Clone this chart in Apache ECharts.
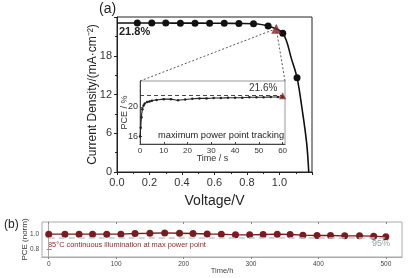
<!DOCTYPE html>
<html>
<head>
<meta charset="utf-8">
<script src="https://cdn.jsdelivr.net/npm/echarts@6/dist/echarts.min.js"></script>
<style>
html,body{margin:0;padding:0;background:#fff;}
#c{width:413px;height:278px;}
</style>
</head>
<body>
<div id="c"></div>
<script>
// ---- Data ----
// (a) J-V curve
const jvVoltage = [0, 0.125, 0.214, 0.30, 0.39, 0.48, 0.57, 0.66, 0.75, 0.84, 0.93, 1.02, 1.075, 1.108, 1.14, 1.167, 1.18];
const jvCurrent = [23.06, 23.06, 23.06, 23.06, 23.05, 23.05, 23.04, 23.03, 23.0, 22.95, 22.6, 21.5, 17.4, 14.6, 9.6, 4.5, 0];
const jvMarked  = [false, true, true, true, true, true, true, true, true, true, true, true, false, true, false, false, false];
const mppVoltage = [0.98];
const mppCurrent = [22.2];
const jvXTicks = [0, 0.2, 0.4, 0.6, 0.8, 1.0];
const jvYTicks = [0, 6, 12, 18];
// inset: maximum power point tracking
const mpptTime = [0, 0.3, 0.6, 1, 1.5, 2, 3, 4, 5, 7, 10, 13, 16, 19, 22, 25, 28, 31, 34, 37, 40, 43, 46, 49, 52, 55, 58, 60];
const mpptPce  = [16.0, 17.2, 18.6, 19.7, 20.2, 20.45, 20.65, 20.75, 20.85, 20.95, 21.05, 21.05, 20.9, 21.0, 21.1, 21.15, 21.15, 21.2, 21.2, 21.25, 21.25, 21.25, 21.3, 21.3, 21.3, 21.35, 21.35, 21.35];
const mpptEndTime = [60];
const mpptEndPce = [21.5];
const mpptTarget = 21.6;
const insetXTicks = [0, 10, 20, 30, 40, 50, 60];
const insetYTicks = [16, 20];
// (b) stability
const agingTime = [0, 24, 45, 65, 86, 107, 128, 150, 172, 194, 214, 235, 256, 277, 298, 318, 339, 358, 377, 398, 418, 439, 461, 482, 500];
const agingPce  = [1.0, 1.0, 1.0, 1.0, 1.0, 1.0, 1.008, 1.012, 1.017, 1.013, 1.008, 1.003, 1.0, 0.991, 0.991, 0.995, 1.0, 0.995, 0.987, 0.982, 0.982, 0.978, 0.978, 0.974, 0.965];
const agingRef = 0.95;
const agingXTicks = [0, 100, 200, 300, 400, 500];
const agingYTicks = [0.8, 1.0];

const FONT = '"Liberation Sans", Arial, sans-serif';
const RED = '#7a1c1f';

const chart = echarts.init(document.getElementById('c'), null, {renderer: 'canvas'});

const jvData = jvVoltage.map((v, i) => ({
  value: [v, jvCurrent[i]],
  symbol: jvMarked[i] ? 'circle' : 'none'
}));

const option = {
  animation: false,
  backgroundColor: '#fff',
  textStyle: {fontFamily: FONT},
  grid: [
    {left: 117, top: 17, width: 195, height: 155, show: true, borderColor: '#222', borderWidth: 1, backgroundColor: 'transparent'},
    {left: 140, top: 81, width: 145, height: 63, show: true, borderColor: '#999', borderWidth: 1, backgroundColor: '#fff'},
    {left: 42, top: 222, width: 360, height: 35, show: true, borderColor: '#aaa', borderWidth: 1, backgroundColor: 'transparent'}
  ],
  xAxis: [
    {gridIndex: 0, type: 'value', min: 0, max: 1.2, interval: 0.2,
     name: 'Voltage/V', nameLocation: 'middle', nameGap: 22, nameMoveOverlap: false,
     nameTextStyle: {fontSize: 14, color: '#222', fontFamily: FONT},
     axisLine: {lineStyle: {color: '#222'}},
     axisTick: {show: true, inside: false, length: 3, lineStyle: {color: '#222'}},
     minorTick: {show: true, splitNumber: 2, length: 2, lineStyle: {color: '#222'}},
     axisLabel: {fontSize: 11, color: '#333', margin: 5, fontFamily: FONT,
       formatter: v => jvXTicks.some(t => Math.abs(t - v) < 1e-6) ? v.toFixed(1) : ''},
     splitLine: {show: false}},
    {gridIndex: 1, type: 'value', min: 0, max: 61,
     name: 'Time / s', nameLocation: 'middle', nameGap: 10, nameMoveOverlap: false,
     nameTextStyle: {fontSize: 9, color: '#333', fontFamily: FONT},
     axisLine: {lineStyle: {color: '#444'}},
     axisTick: {show: true, inside: true, length: 2, customValues: insetXTicks, lineStyle: {color: '#444'}},
     axisLabel: {fontSize: 8, color: '#333', margin: 3, customValues: insetXTicks, fontFamily: FONT},
     splitLine: {show: false}},
    {gridIndex: 2, type: 'value', min: -10, max: 524,
     name: 'Time/h', nameLocation: 'middle', nameGap: 10, nameMoveOverlap: false,
     nameTextStyle: {fontSize: 7.5, color: '#444', fontFamily: FONT},
     axisLine: {lineStyle: {color: '#aaa'}},
     axisTick: {show: true, inside: false, length: 2, customValues: agingXTicks, lineStyle: {color: '#888'}},
     axisLabel: {fontSize: 6.5, color: '#444', margin: 4, customValues: agingXTicks, fontFamily: FONT},
     splitLine: {show: false}},
    {gridIndex: 2, type: 'value', min: -10, max: 524, position: 'top',
     axisLine: {show: false},
     axisTick: {show: true, inside: true, length: 2, customValues: agingXTicks, lineStyle: {color: '#888'}},
     axisLabel: {show: false},
     splitLine: {show: false}}
  ],
  yAxis: [
    {gridIndex: 0, type: 'value', min: 0, max: 24, interval: 6,
     name: 'Current Density/(mA·cm⁻²)', nameLocation: 'middle', nameGap: 18, nameMoveOverlap: false,
     nameTextStyle: {fontSize: 12, color: '#222', fontFamily: FONT},
     axisLine: {lineStyle: {color: '#222'}},
     axisTick: {show: true, inside: false, length: 3, lineStyle: {color: '#222'}},
     minorTick: {show: true, splitNumber: 2, length: 2, lineStyle: {color: '#222'}},
     axisLabel: {fontSize: 11, color: '#333', margin: 5, fontFamily: FONT,
       formatter: v => jvYTicks.indexOf(v) >= 0 ? String(v) : ''},
     splitLine: {show: false}},
    {gridIndex: 1, type: 'value', min: 15, max: 23.5,
     name: 'PCE / %', nameLocation: 'middle', nameGap: 11, nameMoveOverlap: false,
     nameTextStyle: {fontSize: 9, color: '#333', fontFamily: FONT},
     axisLine: {lineStyle: {color: '#444'}},
     axisTick: {show: true, inside: true, length: 2, customValues: insetYTicks, lineStyle: {color: '#444'}},
     axisLabel: {fontSize: 9, color: '#333', margin: 2, customValues: insetYTicks, fontFamily: FONT},
     splitLine: {show: false}},
    {gridIndex: 2, type: 'value', min: 0.7, max: 1.16,
     name: 'PCE (norm)', nameLocation: 'middle', nameGap: 13, nameMoveOverlap: false,
     nameTextStyle: {fontSize: 8, color: '#333', fontFamily: FONT},
     axisLine: {lineStyle: {color: '#aaa'}},
     axisTick: {show: true, inside: false, length: 2, customValues: agingYTicks, lineStyle: {color: '#888'}},
     axisLabel: {fontSize: 6.5, color: '#444', margin: 3, customValues: agingYTicks, fontFamily: FONT,
       formatter: v => v.toFixed(1)},
     splitLine: {show: false}},
    {gridIndex: 2, type: 'value', min: 0.7, max: 1.16, position: 'right',
     axisLine: {show: false},
     axisTick: {show: true, inside: false, length: 3, customValues: agingYTicks, lineStyle: {color: '#888'}},
     axisLabel: {show: false},
     splitLine: {show: false}}
  ],
  series: [
    {type: 'line', xAxisIndex: 0, yAxisIndex: 0, data: jvData, smooth: 0.35,
     symbolSize: 7, itemStyle: {color: '#111'}, lineStyle: {color: '#111', width: 1.6}, z: 3},
    {type: 'scatter', xAxisIndex: 0, yAxisIndex: 0, data: mppVoltage.map((v, i) => [v, mppCurrent[i]]),
     symbol: 'triangle', symbolSize: 10, itemStyle: {color: '#8e1b1e'}, z: 5},
    {type: 'line', xAxisIndex: 1, yAxisIndex: 1, data: mpptTime.map((t, i) => [t, mpptPce[i]]),
     smooth: 0.3, symbol: 'circle', symbolSize: 2.5, showSymbol: true,
     itemStyle: {color: '#222'}, lineStyle: {color: '#222', width: 1.1},
     markLine: {silent: true, symbol: 'none', label: {show: false},
       lineStyle: {color: '#333', type: [4, 3], width: 0.9},
       data: [[{coord: [0, mpptTarget]}, {coord: [60, mpptTarget]}]]}},
    {type: 'scatter', xAxisIndex: 1, yAxisIndex: 1, data: mpptEndTime.map((t, i) => [t, mpptEndPce[i]]),
     symbol: 'triangle', symbolSize: 7, itemStyle: {color: '#8e1b1e'}, z: 5},
    {type: 'line', xAxisIndex: 2, yAxisIndex: 2, data: agingTime.map((t, i) => [t, agingPce[i]]),
     symbol: 'circle', symbolSize: 7, itemStyle: {color: RED}, lineStyle: {color: RED, width: 1.4}, z: 4,
     markLine: {silent: true, symbol: 'none', label: {show: false},
       lineStyle: {color: '#b9cccc', type: [6, 4], width: 1.5},
       data: [[{coord: [0, agingRef]}, {coord: [500, agingRef]}]]}}
  ],
  graphic: [
    {type: 'text', left: 99, top: 2, style: {text: '(a)', font: '14px ' + FONT, fill: '#222'}},
    {type: 'text', left: 119, top: 26, style: {text: '21.8%', font: 'bold 11px ' + FONT, fill: '#222'}},
    {type: 'text', left: 249, top: 83, style: {text: '21.6%', font: '10px ' + FONT, fill: '#333'}},
    {type: 'text', left: 158, top: 131, style: {text: 'maximum power point tracking', font: '9.3px ' + FONT, fill: '#222'}},
    {type: 'text', left: 4, top: 219, style: {text: '(b)', font: '12px ' + FONT, fill: '#222'}},
    {type: 'text', left: 48, top: 241, style: {text: '85°C continuous illumination at max power point', font: '7.4px ' + FONT, fill: '#8b2a2a'}},
    {type: 'text', left: 372, top: 239, style: {text: '95%', font: '9px ' + FONT, fill: '#8aa3aa'}}
  ]
};
chart.setOption(option);

// connector lines from MPP triangle to inset corners
const tri = chart.convertToPixel({xAxisIndex: 0, yAxisIndex: 0}, [mppVoltage[0], mppCurrent[0]]);
const cornerL = chart.convertToPixel({xAxisIndex: 1, yAxisIndex: 1}, [0, 23.5]);
const cornerR = chart.convertToPixel({xAxisIndex: 1, yAxisIndex: 1}, [61, 23.5]);
const g = option.graphic.slice();
[cornerL, cornerR].forEach(c => {
  g.push({type: 'line', z: 10, shape: {x1: c[0], y1: c[1], x2: tri[0], y2: tri[1]},
          style: {stroke: '#444', lineWidth: 0.9, lineDash: [2, 2]}});
});
chart.setOption({graphic: g});
</script>
</body>
</html>
